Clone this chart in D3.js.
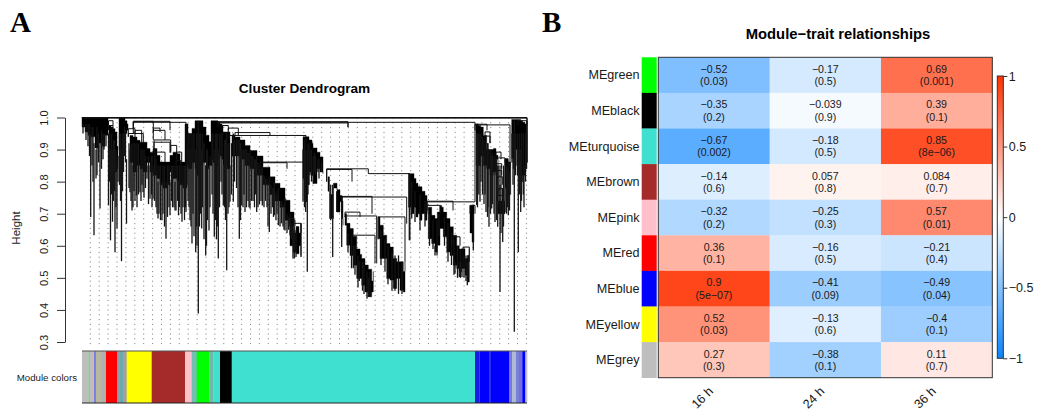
<!DOCTYPE html>
<html>
<head>
<meta charset="utf-8">
<script src="https://cdn.jsdelivr.net/npm/d3@7"></script>
<style>
    html, body { margin: 0; padding: 0; background: #fff; }
    svg { display: block; }
    text { font-family: "Liberation Sans", Arial, sans-serif; fill: #1a1a1a; }
    .panel-letter { font-family: "Liberation Serif", serif; font-weight: bold; font-size: 29px; fill: #000; }
    .title { font-weight: bold; font-size: 13.6px; fill: #000; }
    .axis-text text { font-size: 11px; }
    .guide { stroke: #777; stroke-width: 1; stroke-dasharray: 1 3.8; }
    .body { fill: #000; stroke: #000; stroke-width: 0.4; }
    .spike { stroke: #151515; stroke-width: 1.3; fill: none; }
    .merge { stroke: #111; stroke-width: 1; fill: none; }
</style>
</head>
<body>
<div id="chart"></div>
<script>
// panel A: height ticks, module colour strip
const heightTicks = [0.3, 0.4, 0.5, 0.6, 0.7, 0.8, 0.9, 1.0];
const stripColors = ['#bebebe', '#90c890', '#bebebe', '#8080e0', '#b8b8a0', '#b0b0b0', 'red', '#8aa0b8', '#70a8a8', '#a0a0a0',
    'yellow', 'brown', 'pink', '#70c0b0', 'lime', '#70b8a8', 'turquoise', 'black', 'turquoise',
    '#1a1ae8', '#3a3ae8', 'blue', '#3030f0', 'blue', '#7878d8', '#b0b8d8', '#7a80d8', '#7070d8', 'blue', '#bebebe'];
const stripEnds = [6.3, 8, 12, 14, 19.7, 24, 35.3, 38, 41, 44.7,
    69.7, 103, 109.7, 114.7, 127.3, 131.3, 138, 149.7, 393,
    397, 398, 407.5, 408.5, 427.3, 430, 434, 437, 440.3, 443.3, 445];

// dendrogram. pos = gene order, heights on the y axis
// solid cluster bodies: [pos, top, bottom]
const clusterBodies = [
    [[0,1,.97],[3,1,.955],[6,1,.945],[9,1,.94],[13,1,.905],[16,1,.92],[20,1,.91],[23,1,.945],[26,1,.96]],
    [[27,.975,.89],[29,.97,.85],[31,.965,.84],[33,.955,.83],[35,.91,.84],[36,.9,.87]],
    [[37,1,.90],[39,1,.87],[41,1,.90],[43,.99,.95],[45,.98,.96],[46,.97,.96]],
    [[48,.944,.86],[51,.939,.83],[55,.929,.85],[58,.923,.84],[61,.923,.83],[65,.903,.86],[68,.892,.83],[71,.903,.82],[75,.882,.81],
        [78,.861,.79],[81,.861,.78],[85,.861,.79],[88,.882,.83],[91,.892,.81],[95,.887,.80],[98,.861,.79],[101,.861,.78],[105,.861,.80]],
    [[103,.98,.85],[106,.95,.84],[110,.966,.86],[113,.99,.84],[115,.99,.82],[118,.99,.85],[121,.97,.86],[124,.945,.84],[127,.924,.85],[130,.913,.86]],
    [[129,.99,.87],[131,.99,.86],[133,.99,.85],[136,.986,.87],[138,.98,.88],[140,.975,.87],[141,.955,.85],[145,.955,.84],[148,.93,.84]],
    [[150,.945,.88],[153,.939,.88],[158,.93,.87],[163,.913,.85],[168,.897,.84],[175,.88,.82],[181,.845,.79],[188,.815,.76],[193,.795,.74],[198,.78,.72],[203,.742,.68],[208,.705,.66],[212,.664,.62]],
    [[208,.685,.6],[211,.64,.58],[214,.66,.575],[217,.64,.6],[219,.67,.57]],
    [[221,.94,.81],[222,.94,.747],[224,.94,.737],[225,.94,.79],[227,.93,.83],[230,.92,.82],[231,.905,.794],[235,.892,.84],[238,.877,.83],[241,.856,.825]],
    [[246,.815,.77],[247.5,.76,.685],[250,.76,.685],[251.5,.795,.78],[255,.775,.705],[258,.757,.737],[260,.74,.685],[261,.74,.664]],
    [[263,.70,.664],[264.7,.67,.602],[268,.654,.57],[271.3,.63,.539],[274.7,.59,.498],[278,.573,.498],[279.7,.56,.477],[283,.54,.456],[286.3,.527,.441],[289.7,.49,.456],[291.3,.52,.477]],
    [[296.3,.69,.622],[298,.664,.56],[301.3,.633,.56],[304.7,.607,.498],[308,.596,.493],[311.3,.56,.467],[314.7,.55,.498],[318,.55,.461],[321.3,.52,.456],[323,.55,.467]],
    [[326.5,.825,.72],[329,.825,.70],[332,.81,.72],[334,.795,.69],[336,.785,.70],[338,.784,.68],[340,.77,.70],[343,.757,.68],[345,.74,.70]],
    [[346.3,.72,.622],[349.7,.695,.607],[353,.685,.581],[355.3,.705,.602],[358,.726,.654],[359.7,.72,.654],[361.3,.705,.628],[364.7,.685,.581],[368,.659,.57],
        [371.3,.633,.539],[374.7,.60,.529],[377.3,.59,.519],[379.7,.591,.529],[383,.56,.508],[385.3,.57,.487],[387.3,.591,.529]],
    [[388,.726,.64],[390,.726,.612],[392,.72,.64]],
    [[394,.98,.85],[396.3,.975,.85],[398.7,.97,.88],[401.3,.944,.85],[404.7,.90,.84],[408,.90,.82],[411.3,.903,.83],[414,.882,.87],[416,.74,.70],[421,.74,.70],[423,.872,.78],[426.3,.861,.76],[428.7,.84,.76]],
    [[429.7,.994,.872],[431.3,.994,.84],[432.3,.994,.9],[434.7,.994,.85],[436.3,.994,.861],[438.7,.99,.80],[440.7,.985,.82],[443,.98,.84],[444.7,.975,.861]]
];

// single branches hanging below the bodies: [pos, top, bottom]
const leafSpikes = [
    [8.7,.95,.69],[12,.92,.633],[14,.9,.81],[18,.92,.716],[26.5,.95,.726],[28.5,.9,.617],[30.5,.9,.675],[33,.9,.58],[35,.85,.654],[39.5,.9,.552],
    [44.5,.87,.669],[48,.9,.767],[51,.85,.72],[54.5,.85,.757],[58,.85,.767],[61,.85,.767],[65,.85,.809],[68,.85,.747],[71,.85,.747],[76,.8,.685],
    [80,.8,.68],[84,.8,.622],[88,.8,.695],[93,.8,.71],[96.5,.8,.695],[100,.8,.675],[104,.8,.705],
    [105,.9,.79],[108,.9,.68],[110,.9,.607],[113.7,.9,.58],[116.3,.99,.389],[119.7,.9,.654],[123.7,.85,.57],[127,.85,.648],[132.3,.9,.628],[136.3,.9,.56],
    [141.3,.85,.726],[144.7,.95,.524],[148,.85,.737],[151.3,.95,.737],[157.3,.93,.622],[159.7,.9,.726],[163,.9,.705],[168,.9,.716],[174.7,.88,.705],
    [180.3,.85,.726],[187.3,.815,.643],[192.3,.8,.695],[196.3,.78,.664],[203,.75,.648],[208,.7,.633],[212.3,.66,.56],
    [211,.65,.56],[214,.65,.565],[219,.67,.565],
    [221,.9,.737],[223.7,.9,.705],[225.3,.9,.519],[228,.9,.82],[231.3,.88,.794],
    [250.7,.79,.565],[248.7,.79,.68],[259.7,.75,.596],[254.7,.77,.705],[271.3,.6,.53],[277.3,.55,.49],[286.3,.5,.44],
    [327.3,.825,.617],[329.7,.8,.685],[333,.77,.674],[338,.76,.648],[343,.74,.66],
    [353,.6,.57],[373,.55,.513],[377.3,.55,.503],[380,.55,.503],[385.3,.55,.477],[391.3,.7,.585],
    [394.7,.95,.727],[398,.95,.737],[404,.9,.705],[407,.9,.659],[409.7,.88,.716],[413,.87,.674],[415.7,.85,.659],[418,.79,.456],[420.7,.78,.612],[423,.87,.705],[426.3,.86,.695],
    [432.3,.99,.332],[436.3,.9,.58],[438.7,.9,.705],[442,.85,.72],[445,.99,.86]
];

// the denser stems inside each cluster: [pos, top, bottom]
const clusterBranches = [
    [1,.98,.95],[4,.98,.93],[6,.98,.91],[7.5,.98,.88],[10,.97,.85],[11,.97,.8],[15,.97,.82],[16.5,.95,.86],[19.5,.96,.84],[21,.95,.87],[22,.95,.9],[24,.95,.91],
    [27.5,.95,.8],[29.5,.95,.76],[31.5,.93,.74],[32.5,.93,.77],[34,.9,.72],[36,.88,.8],
    [37.5,.95,.79],[38.5,.95,.74],[40.5,.95,.77],[41.5,.95,.83],[42.5,.97,.88],[43.5,.96,.86],
    [47,.92,.78],[49,.92,.74],[50,.92,.71],[52,.92,.77],[53,.92,.74],[55,.92,.72],[56.5,.92,.76],[59,.9,.74],[60,.9,.79],[62,.9,.75],[63.5,.88,.78],[66.5,.88,.73],
    [69.5,.88,.76],[70,.88,.72],[72.5,.88,.74],[74,.87,.72],[75,.85,.7],[77,.85,.7],[78.5,.85,.68],[81,.85,.7],[82.5,.85,.66],[85.5,.85,.69],[87,.85,.72],[89.5,.85,.74],
    [90.5,.85,.72],[92,.85,.72],[94,.85,.71],[95.5,.85,.74],[97.5,.85,.72],[99,.85,.70],[101,.85,.72],[102.5,.85,.68],[103.5,.85,.72],
    [106,.95,.74],[107,.95,.72],[109,.95,.66],[111,.95,.7],[112,.95,.63],[114.7,.95,.66],[115,.95,.6],[117.5,.95,.66],[118.5,.95,.7],[120.5,.95,.72],[122,.92,.62],[124.5,.9,.6],[125.5,.9,.68],[128,.88,.72],
    [130,.95,.76],[131,.95,.7],[133.5,.95,.68],[134.5,.95,.62],[135.3,.95,.66],[137.5,.95,.72],[139,.95,.8],[140,.95,.76],[142.5,.93,.72],[143.5,.93,.68],[146,.92,.7],[147,.92,.72],[149.5,.92,.76],
    [152.5,.93,.8],[154.5,.93,.78],[156,.93,.72],[158.5,.92,.68],[161,.9,.72],[162,.9,.76],[164.5,.9,.72],[166,.89,.74],[167,.89,.72],[169.5,.88,.74],[171,.88,.74],[172.5,.87,.72],[173.5,.87,.76],
    [176,.86,.72],[177.5,.85,.73],[179,.84,.74],[182,.82,.72],[183.5,.81,.74],[185,.81,.72],[186,.8,.66],[189,.79,.7],[190.5,.78,.72],[191.5,.78,.69],[194,.77,.68],[195,.76,.70],[198,.74,.66],
    [199.5,.74,.67],[201,.73,.66],[202,.72,.65],[205,.7,.64],[206.5,.69,.65],[209.5,.67,.62],[211,.66,.6],
    [222.5,.93,.72],[226,.92,.76],[227,.92,.79],[229.5,.9,.8],[232.5,.89,.83],[233.5,.88,.82],[236,.87,.83],[237,.87,.81],[239.5,.86,.83],
    [266,.64,.58],[269.5,.62,.53],[273,.6,.51],[276,.57,.47],[280.5,.55,.46],[282,.54,.45],[285,.52,.435],[288,.52,.44],
    [299,.65,.54],[303,.62,.52],[306,.6,.48],[310,.58,.46],[313,.57,.46],[316.5,.57,.45],[320,.55,.45],
    [347.5,.7,.6],[351,.68,.59],[355,.68,.57],[357,.7,.63],[362.5,.69,.6],[366,.67,.55],[369.5,.64,.54],[372,.62,.51],[375.5,.6,.5],[378.5,.59,.5],[382,.57,.5],[384,.57,.49],[386.5,.57,.5],
    [395.5,.95,.72],[396.8,.95,.76],[399,.95,.8],[400.5,.94,.76],[402,.93,.73],[403,.93,.76],[405.5,.92,.69],[406,.92,.72],[408.5,.9,.7],[410.5,.89,.73],[412,.88,.7],[414.5,.87,.68],
    [417,.85,.72],[419,.85,.64],[421.5,.85,.66],[424.5,.85,.7],[425.5,.84,.72],[427.5,.83,.71],
    [430,.95,.86],[431,.95,.79],[433.5,.95,.82],[435.5,.95,.82],[437.5,.95,.76],[439.5,.95,.74],[441.3,.95,.76],[443.5,.95,.8],[444.5,.95,.84]
];

// merges: [left pos, right pos, merge height, left child height, right child height]
const branchMerges = [
    [0,445,1,1,.86],[0,445,.998,1,.99],
    [26.5,31,.99,.975,.975],[26.5,31,.975,.96,.96],
    [51.3,104,.985,.965,.867],[51.3,88,.988,.95,.96],[46.3,53,.965,.94,.95],[53,59.7,.96,.935,.92],[46.3,61.3,.95,.94,.92],
    [71.3,78,.967,.955,.955],[51.3,71.3,.988,.965,.955],[71.3,83,.96,.93,.93],[72,88.7,.93,.89,.895],[72,88,.923,.89,.89],[73,83,.892,.86,.86],
    [88.7,94.7,.913,.89,.86],[94.7,99.7,.892,.86,.86],[94,98.7,.866,.84,.84],
    [139.7,146.3,.975,.96,.96],[146.3,156.3,.967,.95,.945],[153,188,.953,.945,.944],[147,224,.944,.93,.9],[178,221,.861,.84,.861],[178,205,.859,.84,.84],
    [208,212,.685,.66,.66],[210,219,.67,.64,.64],[208,213,.68,.66,.66],
    [136,393,.985,.97,.977],[136,266,.983,.97,.97],[136,266,.987,.97,.97],
    [244.7,286.3,.84,.80,.825],[244.7,270,.838,.80,.80],[286.3,328,.825,.825,.617],
    [260,324.7,.752,.70,.669],[260,290,.754,.70,.70],[263,294.7,.693,.69,.545],[263,278,.705,.69,.69],[269.7,293,.633,.6,.545],[296,323,.69,.62,.55],
    [345,393,.737,.71,.737],[345,371,.739,.71,.71],[345,358,.726,.70,.70],[371,378,.628,.6,.6],[381,387.3,.596,.55,.55],[388,393,.726,.70,.70],
    [393,428,.977,.737,.84],[393,405,.979,.96,.96],
    [403,408,.955,.94,.92],[403,408,.942,.92,.92],[414,419,.892,.87,.87],[413,423,.874,.85,.86],[414,419.7,.856,.84,.84],[414,419.7,.835,.82,.82],
    [415,420.7,.815,.79,.79],[416,420.7,.778,.76,.76],[415.5,420.7,.757,.74,.74],[436,445,.99,.975,.975]
];

// panel B
const moduleNames = ['MEgreen', 'MEblack', 'MEturquoise', 'MEbrown', 'MEpink', 'MEred', 'MEblue', 'MEyellow', 'MEgrey'];
const moduleSwatches = ['lime', 'black', 'turquoise', 'brown', 'pink', 'red', 'blue', 'yellow', '#bebebe'];
const timeLabels = ['16 h', '24 h', '36 h'];
const corr16h = [-0.52, -0.35, -0.67, -0.14, -0.32, 0.36, 0.9, 0.52, 0.27];
const corr24h = [-0.17, -0.039, -0.18, 0.057, -0.25, -0.16, -0.41, -0.13, -0.38];
const corr36h = [0.69, 0.39, 0.85, 0.084, 0.57, -0.21, -0.49, -0.4, 0.11];
const pval16h = ['0.03', '0.2', '0.002', '0.6', '0.2', '0.1', '5e−07', '0.03', '0.3'];
const pval24h = ['0.5', '0.9', '0.5', '0.8', '0.3', '0.5', '0.09', '0.6', '0.1'];
const pval36h = ['0.001', '0.1', '8e−06', '0.7', '0.01', '0.4', '0.04', '0.1', '0.7'];
const legendTicks = [-1, -0.5, 0, 0.5, 1];

const svg = d3.select('#chart')
    .append('svg')
    .attr('width', 1038)
    .attr('height', 410);

const minus = v => String(v).replace('-', '−');

svg.append('text').attr('class', 'panel-letter').attr('x', 10).attr('y', 32).text('A');
svg.append('text').attr('class', 'panel-letter').attr('x', 542).attr('y', 32).text('B');

// ---- panel A
const x = d3.scaleLinear().domain([0, 445]).range([82, 527]);
const y = d3.scaleLinear().domain([0.3, 1]).range([342, 117.5]);

svg.append('text')
    .attr('class', 'title')
    .attr('text-anchor', 'middle')
    .attr('x', 304.5)
    .attr('y', 93)
    .text('Cluster Dendrogram');

const yAxis = d3.axisLeft(y)
    .tickValues(heightTicks)
    .tickFormat(d3.format('.1f'))
    .tickSize(8)
    .tickSizeOuter(0);

const yAxisG = svg.append('g')
    .attr('class', 'axis-text')
    .attr('transform', 'translate(65,0)')
    .call(yAxis);

yAxisG.selectAll('line, path').attr('stroke', '#333');
yAxisG.selectAll('.tick text')
    .attr('transform', 'rotate(-90) translate(0,-17)')
    .attr('text-anchor', 'middle')
    .attr('x', 0)
    .attr('y', 0)
    .attr('dy', 0);

svg.append('text')
    .attr('text-anchor', 'middle')
    .attr('transform', 'translate(20,228) rotate(-90)')
    .style('font-size', '11.5px')
    .text('Height');

// dotted guides behind the tree
svg.append('g')
    .selectAll('line')
    .data(d3.range(50))
    .enter()
    .append('line')
    .attr('class', 'guide')
    .attr('x1', d => x(8.3 + d * 8.9))
    .attr('x2', d => x(8.3 + d * 8.9))
    .attr('y1', y(1))
    .attr('y2', y(0.291));

const bodyArea = d3.area()
    .curve(d3.curveStepAfter)
    .x(d => x(d[0]))
    .y0(d => y(d[2]))
    .y1(d => y(d[1]));

svg.append('g')
    .selectAll('path')
    .data(clusterBodies)
    .enter()
    .append('path')
    .attr('class', 'body')
    .attr('d', bodyArea);

svg.append('g')
    .selectAll('line')
    .data(leafSpikes.concat(clusterBranches))
    .enter()
    .append('line')
    .attr('class', 'spike')
    .attr('x1', d => x(d[0]))
    .attr('x2', d => x(d[0]))
    .attr('y1', d => y(d[1]))
    .attr('y2', d => y(d[2]));

const mergePath = d3.line().x(d => x(d[0])).y(d => y(d[1]));

svg.append('g')
    .selectAll('path')
    .data(branchMerges)
    .enter()
    .append('path')
    .attr('class', 'merge')
    .attr('d', d => mergePath([[d[0], d[3]], [d[0], d[2]], [d[1], d[2]], [d[1], d[4]]]));

// module colour strip
svg.append('g')
    .selectAll('rect')
    .data(stripColors)
    .enter()
    .append('rect')
    .attr('x', (d, i) => x(i ? stripEnds[i - 1] : 0))
    .attr('width', (d, i) => x(stripEnds[i]) - x(i ? stripEnds[i - 1] : 0) + 0.3)
    .attr('y', 351)
    .attr('height', 52)
    .attr('fill', d => d);

svg.append('line').attr('x1', x(0)).attr('x2', x(445)).attr('y1', 351).attr('y2', 351).attr('stroke', '#555');
svg.append('line').attr('x1', x(0)).attr('x2', x(445)).attr('y1', 403).attr('y2', 403).attr('stroke', '#222');

svg.append('text')
    .attr('text-anchor', 'end')
    .attr('x', 77)
    .attr('y', 380.5)
    .style('font-size', '9.7px')
    .text('Module colors');

// ---- panel B
const heat = { left: 658.3, right: 992.3, top: 57.3, bottom: 377.7 };

const colX = d3.scaleBand().domain(timeLabels).range([heat.left, heat.right]);
const rowY = d3.scaleBand().domain(moduleNames).range([heat.top, heat.bottom]);
const color = d3.scaleLinear().domain([-1, 0, 1]).range(['#0a84ff', '#ffffff', '#ff3000']);

svg.append('text')
    .attr('class', 'title')
    .attr('text-anchor', 'middle')
    .attr('x', 838)
    .attr('y', 39)
    .style('font-size', '14.8px')
    .text('Module−trait relationships');

const cells = [];
[corr16h, corr24h, corr36h].forEach((values, c) => {
    const pvals = [pval16h, pval24h, pval36h][c];
    values.forEach((v, r) => cells.push({ time: timeLabels[c], module: moduleNames[r], value: v, p: pvals[r] }));
});

svg.append('g')
    .selectAll('rect')
    .data(cells)
    .enter()
    .append('rect')
    .attr('x', d => colX(d.time))
    .attr('y', d => rowY(d.module))
    .attr('width', colX.bandwidth() + 0.3)
    .attr('height', rowY.bandwidth() + 0.3)
    .attr('fill', d => color(d.value));

const cellText = svg.append('g')
    .attr('text-anchor', 'middle')
    .style('font-size', '10.6px')
    .selectAll('g')
    .data(cells)
    .enter()
    .append('g')
    .attr('transform', d => `translate(${colX(d.time) + colX.bandwidth() / 2},${rowY(d.module) + rowY.bandwidth() / 2})`);

cellText.append('text').attr('y', -2.4).text(d => minus(d.value));
cellText.append('text').attr('y', 10.1).text(d => `(${d.p})`);

svg.append('rect')
    .attr('x', heat.left)
    .attr('y', heat.top)
    .attr('width', heat.right - heat.left)
    .attr('height', heat.bottom - heat.top)
    .attr('fill', 'none')
    .attr('stroke', '#333');

svg.append('g')
    .selectAll('rect')
    .data(moduleSwatches)
    .enter()
    .append('rect')
    .attr('x', 641.7)
    .attr('y', (d, i) => rowY(moduleNames[i]))
    .attr('width', 15)
    .attr('height', rowY.bandwidth() + 0.3)
    .attr('fill', d => d);

svg.append('g')
    .attr('text-anchor', 'end')
    .style('font-size', '12.6px')
    .selectAll('text')
    .data(moduleNames)
    .enter()
    .append('text')
    .attr('x', 639.5)
    .attr('y', d => rowY(d) + rowY.bandwidth() / 2 + 4.3)
    .text(d => d);

svg.append('g')
    .attr('text-anchor', 'end')
    .style('font-size', '12.6px')
    .selectAll('text')
    .data(timeLabels)
    .enter()
    .append('text')
    .attr('transform', d => `translate(${colX(d) + colX.bandwidth() / 2},392) rotate(-45)`)
    .text(d => d);

// colour legend
const legendY = d3.scaleLinear().domain([-1, 1]).range([358.3, 76]);

const gradient = svg.append('defs')
    .append('linearGradient')
    .attr('id', 'legend-gradient')
    .attr('x1', 0).attr('x2', 0).attr('y1', 1).attr('y2', 0);

gradient.selectAll('stop')
    .data(legendTicks)
    .enter()
    .append('stop')
    .attr('offset', d => (d + 1) / 2)
    .attr('stop-color', d => color(d));

svg.append('rect')
    .attr('x', 997.3)
    .attr('y', legendY(1))
    .attr('width', 6)
    .attr('height', legendY(-1) - legendY(1))
    .attr('fill', 'url(#legend-gradient)')
    .attr('stroke', '#333');

const legendAxis = d3.axisRight(legendY)
    .tickValues(legendTicks)
    .tickFormat(minus)
    .tickSize(4)
    .tickSizeOuter(0);

const legendG = svg.append('g')
    .attr('transform', 'translate(1003.3,0)')
    .call(legendAxis);

legendG.select('.domain').remove();
legendG.selectAll('line').attr('stroke', '#333');
legendG.selectAll('text')
    .attr('x', 5.5)
    .style('font-size', '12.5px')
    .style('font-family', '"Liberation Sans", Arial, sans-serif');
</script>
</body>
</html>
